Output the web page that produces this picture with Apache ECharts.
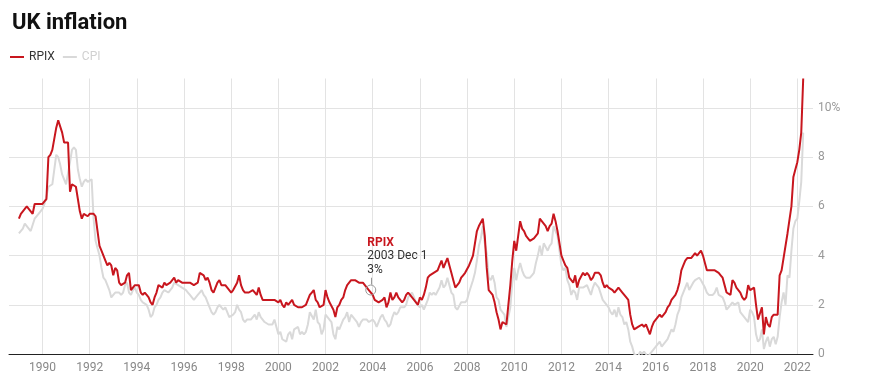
<!DOCTYPE html>
<html><head><meta charset="utf-8">
<script src="https://cdn.jsdelivr.net/npm/echarts@6/dist/echarts.min.js"></script>
<style>html,body{margin:0;padding:0;background:#fff}#c{width:878px;height:392px}</style>
</head><body><div id="c"></div>
<script>
// monthly data, January 1989 to April 2022
const startYear = 1989;
const rpix = [
5.5,5.7,5.7,5.9,6.0,5.9,5.8,5.7,6.1,6.1,6.1,6.1,
6.1,6.2,6.3,8.0,8.1,8.3,8.3,9.2,9.5,9.5,9.0,8.6,
8.6,8.6,6.6,6.9,6.9,6.8,6.3,5.8,5.5,5.7,5.7,5.6,
5.7,5.7,5.7,5.6,5.0,4.4,4.2,4.0,3.8,3.6,3.7,3.6,
3.2,3.5,3.4,2.9,2.8,2.8,2.9,3.2,3.3,2.6,2.7,2.8,
2.8,2.8,2.5,2.4,2.5,2.4,2.3,2.1,2.0,2.3,2.5,2.8,
2.8,2.7,2.9,2.8,2.8,2.9,3.0,3.1,2.9,3.0,3.0,2.9,
2.9,2.9,2.9,2.9,2.9,2.8,2.8,2.9,3.3,3.3,3.2,3.0,
3.1,2.9,2.6,2.5,2.7,2.9,3.0,2.8,2.8,2.8,2.7,2.6,
2.5,2.6,2.6,2.9,3.2,2.8,2.6,2.5,2.5,2.5,2.5,2.6,
2.6,2.4,2.7,2.4,2.2,2.2,2.2,2.2,2.2,2.2,2.2,2.2,
2.1,2.2,2.0,1.9,2.1,2.0,2.0,2.2,2.0,2.0,1.9,1.9,
1.9,1.9,2.0,2.2,2.4,2.5,2.6,2.2,2.1,1.9,1.9,2.0,
2.6,2.3,2.1,2.1,1.8,1.5,1.9,2.0,2.2,2.3,2.6,2.8,
2.9,3.0,3.0,3.0,3.0,2.9,2.9,2.9,2.8,2.7,2.6,2.6,
2.4,2.2,2.2,2.1,2.1,2.2,2.3,1.9,2.1,2.5,2.2,2.3,
2.5,2.3,2.2,2.1,2.2,2.4,2.5,2.4,2.3,2.2,2.1,2.0,
2.3,2.2,2.4,2.7,3.1,3.2,3.2,3.3,3.3,3.4,3.6,3.8,
3.5,3.7,3.9,3.6,3.3,3.0,2.7,2.7,2.9,3.1,3.2,3.3,
3.3,3.6,3.8,4.0,4.5,5.0,5.2,5.2,5.5,4.8,3.5,2.6,
2.6,2.4,2.1,1.7,1.4,1.0,1.3,1.3,1.2,2.0,2.8,3.8,
4.6,4.2,4.8,5.4,5.1,5.0,4.8,4.7,4.6,4.6,4.7,4.8,
4.9,5.5,5.4,5.3,5.2,5.0,5.2,5.3,5.7,5.4,5.0,5.0,
4.0,3.8,3.6,3.5,3.1,3.1,2.9,3.2,2.7,3.0,3.0,3.3,
3.2,3.3,3.2,3.0,3.1,3.3,3.3,3.3,3.2,2.9,2.7,2.8,
2.7,2.7,2.6,2.5,2.6,2.7,2.6,2.5,2.5,2.3,2.2,1.6,
1.2,1.0,1.0,1.1,1.1,1.2,1.1,1.2,1.0,0.8,1.1,1.3,
1.4,1.5,1.6,1.5,1.6,1.7,1.9,2.0,2.2,2.3,2.4,2.6,
2.9,3.4,3.6,3.8,3.9,3.9,3.9,4.0,4.1,4.0,4.1,4.2,
4.0,3.7,3.4,3.4,3.4,3.4,3.4,3.4,3.3,3.2,3.1,2.8,
2.5,2.5,2.4,3.0,2.9,2.7,2.7,2.5,2.3,2.2,2.3,2.8,
2.6,2.6,2.7,2.0,1.4,1.4,1.9,0.8,1.5,1.2,1.1,1.5,
1.6,1.6,1.6,3.2,3.4,3.9,3.9,4.9,4.9,6.0,7.2,7.5,
7.8,8.3,9.0,11.2
];
const cpi = [
4.9,4.9,5.1,5.3,5.2,5.2,5.0,5.0,5.5,5.5,5.7,5.8,
5.9,6.1,6.4,6.8,6.8,6.9,7.5,8.1,8.0,7.7,7.3,7.1,
6.9,6.9,7.8,8.3,8.4,8.3,7.5,7.1,6.8,7.0,7.1,7.0,
7.0,7.1,5.5,4.6,4.3,4.0,3.5,3.1,3.0,2.8,2.6,2.3,
2.4,2.5,2.5,2.5,2.4,2.5,2.8,2.9,2.5,2.4,2.6,2.7,
2.5,2.4,2.2,2.1,2.1,2.0,1.8,1.5,1.6,1.9,2.0,2.2,
2.3,2.5,2.6,2.6,2.5,2.6,2.7,2.9,2.9,2.8,2.8,2.7,
2.7,2.6,2.5,2.4,2.3,2.2,2.3,2.4,2.5,2.6,2.4,2.3,
2.1,1.9,1.7,1.6,1.7,1.9,2.0,1.9,1.8,1.9,1.7,1.5,
1.5,1.6,1.7,2.0,1.8,1.7,1.4,1.3,1.4,1.4,1.4,1.5,
1.6,1.4,1.7,1.5,1.4,1.3,1.3,1.2,1.2,1.2,1.4,1.1,
0.8,0.9,0.6,0.6,0.5,0.8,0.9,0.6,1.0,1.0,1.1,0.8,
0.9,0.8,0.9,1.2,1.7,1.7,1.4,1.8,1.3,1.2,0.8,1.0,
1.6,1.5,1.5,1.3,0.8,0.6,1.1,1.0,1.0,1.4,1.5,1.7,
1.3,1.6,1.5,1.4,1.3,1.1,1.3,1.4,1.4,1.4,1.3,1.3,
1.4,1.3,1.1,1.1,1.5,1.6,1.4,1.3,1.1,1.2,1.5,1.7,
1.6,1.7,1.9,1.9,1.9,2.0,2.3,2.4,2.5,2.3,2.1,2.0,
1.9,2.0,1.8,2.0,2.2,2.5,2.4,2.5,2.4,2.4,2.7,3.0,
2.7,2.8,3.1,2.8,2.5,2.4,1.9,1.8,1.8,2.1,2.1,2.1,
2.2,2.5,2.5,3.0,3.3,3.8,4.4,4.7,5.2,4.5,4.1,3.1,
3.0,3.2,2.9,2.3,2.2,1.8,1.8,1.6,1.1,1.5,1.9,2.9,
3.5,3.0,3.4,3.7,3.4,3.2,3.1,3.1,3.1,3.2,3.3,3.7,
4.0,4.4,4.0,4.5,4.5,4.2,4.4,4.5,5.2,5.0,4.8,4.2,
3.6,3.4,3.5,3.0,2.8,2.4,2.6,2.5,2.2,2.7,2.7,2.7,
2.7,2.8,2.8,2.4,2.7,2.9,2.8,2.7,2.7,2.2,2.1,2.0,
1.9,1.7,1.6,1.8,1.5,1.9,1.6,1.5,1.2,1.3,1.0,0.5,
0.3,0.0,0.0,-0.1,0.1,0.0,0.1,0.0,-0.1,-0.1,0.1,0.2,
0.3,0.3,0.5,0.3,0.3,0.5,0.6,0.6,1.0,0.9,1.2,1.6,
1.8,2.3,2.3,2.7,2.9,2.6,2.6,2.9,3.0,3.0,3.1,3.0,
3.0,2.7,2.5,2.4,2.4,2.4,2.5,2.7,2.4,2.4,2.3,2.1,
1.8,1.9,1.9,2.1,2.0,2.0,2.1,1.7,1.7,1.5,1.5,1.3,
1.8,1.7,1.5,0.8,0.5,0.6,1.0,0.2,0.5,0.7,0.3,0.6,
0.7,0.4,0.7,1.5,2.1,2.5,2.0,3.2,3.1,4.2,5.1,5.4,
5.5,6.2,7.0,9.0
];
const seriesNames = ['RPIX', 'CPI'];
const xTickYears = [1990,1992,1994,1996,1998,2000,2002,2004,2006,2008,2010,2012,2014,2016,2018,2020,2022];
const yTicks = [0,2,4,6,8,10];
// highlighted point: RPIX, December 2003
const noteYear = 2003, noteMonth = 12, noteValue = 2.6;
const noteDateText = '2003 Dec 1', noteValueText = '3%';

const RED = '#c8161e', GREY = '#d9d9d9';
const toPoints = arr => arr.map((v, i) => [startYear + i / 12, v]);
const noteX = noteYear + (noteMonth - 1) / 12;

const chart = echarts.init(document.getElementById('c'), null, {renderer: 'canvas'});
chart.setOption({
  animation: false,
  textStyle: {fontFamily: 'Roboto'},
  title: {
    text: 'UK inflation', left: 7, top: 7,
    textStyle: {fontSize: 22, fontWeight: 'bold', color: '#111', fontFamily: 'Roboto'}
  },
  legend: {
    left: 10, top: 45, itemWidth: 14, itemHeight: 2, itemGap: 8, icon: 'rect',
    padding: [6, 0, 6, 0],
    textStyle: {fontSize: 12, fontFamily: 'Roboto'},
    data: [
      {name: seriesNames[0], textStyle: {color: '#333'}},
      {name: seriesNames[1], textStyle: {color: '#d0d0d0'}}
    ]
  },
  grid: {left: 9, right: 65, top: 78.5, bottom: 38},
  xAxis: {
    type: 'value', min: 1988.58, max: 2022.665,
    axisLine: {show: true, lineStyle: {color: '#222', width: 1}},
    axisTick: {show: false, customValues: xTickYears},
    axisLabel: {customValues: xTickYears, color: '#888', fontSize: 12, margin: 8, formatter: v => String(v)},
    splitLine: {show: true, lineStyle: {color: '#e3e3e3', width: 1}}
  },
  yAxis: {
    type: 'value', position: 'right', min: 0, max: 11.2,
    axisLine: {show: false},
    axisTick: {show: false, customValues: yTicks},
    axisLabel: {customValues: yTicks, color: '#999', fontSize: 12, margin: 5,
      formatter: v => (v === 10 ? '10%' : String(v))},
    splitLine: {show: true, lineStyle: {color: '#e3e3e3', width: 1}}
  },
  series: [
    {
      name: seriesNames[0], type: 'line', data: toPoints(rpix), symbol: 'none',
      lineStyle: {color: RED, width: 2}, itemStyle: {color: RED}, z: 4,
      markPoint: {
        symbol: 'circle', symbolSize: 10, silent: true,
        itemStyle: {color: 'rgba(0,0,0,0)', borderColor: '#999', borderWidth: 1},
        label: {
          show: true, position: [2, -49], align: 'left', verticalAlign: 'top',
          formatter: '{a|RPIX}\n{b|' + noteDateText + '}\n{b|' + noteValueText + '}',
          rich: {
            a: {color: RED, fontWeight: 'bold', fontSize: 12, lineHeight: 14, fontFamily: 'Roboto'},
            b: {color: '#333', fontSize: 12, lineHeight: 13.5, fontFamily: 'Roboto'}
          }
        },
        data: [{coord: [noteX, noteValue]}]
      },
      markLine: {
        silent: true, symbol: 'none', label: {show: false},
        lineStyle: {color: '#999', width: 1, type: 'solid'},
        data: [[{coord: [noteX, noteValue + 0.22]}, {coord: [noteX, noteValue + 0.5]}]]
      }
    },
    {
      name: seriesNames[1], type: 'line', data: toPoints(cpi), symbol: 'none',
      lineStyle: {color: GREY, width: 2}, itemStyle: {color: GREY}, z: 2
    }
  ]
});
</script>
</body></html>
